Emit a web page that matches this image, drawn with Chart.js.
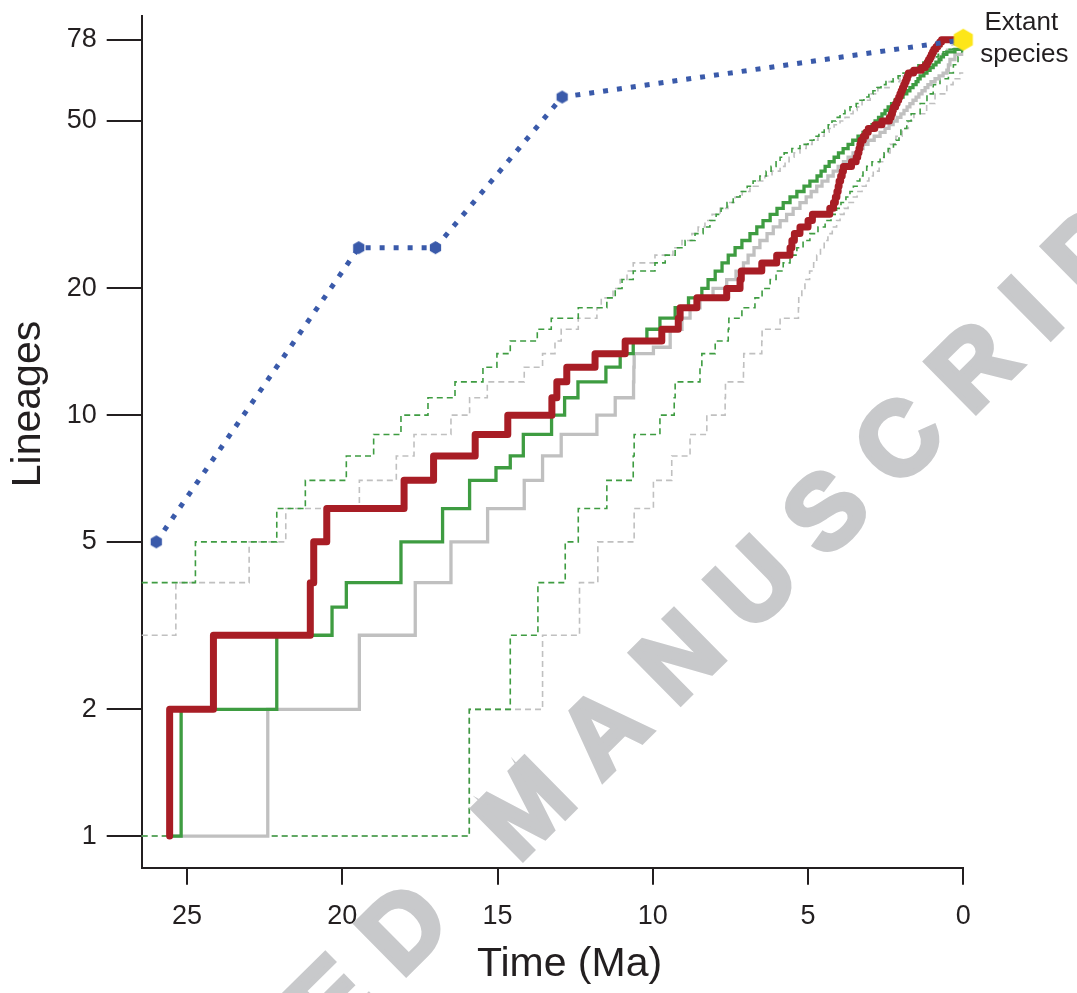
<!DOCTYPE html>
<html><head><meta charset="utf-8">
<script src="https://cdn.jsdelivr.net/npm/chart.js@4.4.1/dist/chart.umd.min.js"></script>
<style>html,body{margin:0;padding:0;background:#fff;}canvas{display:block;}</style>
</head><body>
<canvas id="c" width="1077" height="993"></canvas>
<script>
// ---- data (time in Ma, number of lineages) ----
const xTicks = [0, 5, 10, 15, 20, 25];
const yTicks = [1, 2, 5, 10, 20, 50, 78];

const redLTT = [[25.56,1],[25.56,2],[24.15,3],[21.03,4],[20.92,5],[20.50,6],[18.01,7],[17.06,8],[15.72,9],[14.67,10],[13.25,11],[13.09,12],[12.77,13],[11.86,14],[10.89,15],[9.71,16],[9.18,17],[9.12,18],[8.58,19],[7.62,20],[7.19,21],[7.15,22],[6.49,23],[6.01,24],[5.58,25],[5.52,26],[5.44,27],[5.26,28],[5.00,29],[4.86,30],[4.30,31],[4.18,32],[4.12,33],[4.07,34],[4.03,35],[4.00,36],[3.95,37],[3.90,38],[3.86,39],[3.60,40],[3.45,41],[3.40,42],[3.36,43],[3.33,44],[3.30,45],[3.22,46],[3.14,47],[3.06,48],[2.85,49],[2.62,50],[2.38,51],[2.32,52],[2.28,53],[2.25,54],[2.18,55],[2.13,56],[2.08,57],[2.04,58],[2.00,59],[1.96,60],[1.92,61],[1.88,62],[1.84,63],[1.80,64],[1.77,65],[1.60,66],[1.35,67],[1.22,68],[1.16,69],[1.12,70],[1.07,71],[1.03,72],[0.99,73],[0.95,74],[0.88,75],[0.82,76],[0.76,77],[0.70,78],[0,78]];

const greenMedian = [[25.56,1],[25.19,2],[22.11,3],[20.33,3.5],[19.87,4],[18.11,5],[16.77,6],[15.90,7],[15.05,7.5],[14.59,8],[14.17,9],[13.26,10],[12.84,11],[12.41,12],[11.51,13],[11.05,14],[10.63,15],[10.19,16],[9.77,17],[9.28,18],[8.85,19],[8.42,20],[8.22,21],[7.99,22],[7.77,23],[7.57,24],[7.35,25],[7.13,26],[6.87,27],[6.65,28],[6.45,29],[6.22,30],[6.00,31],[5.80,32],[5.58,33],[5.36,34],[5.13,35],[4.94,36],[4.71,37],[4.58,38],[4.45,39],[4.32,40],[4.16,41],[4.02,42],[3.87,43],[3.71,44],[3.56,45],[3.39,46],[3.23,47],[3.07,48],[2.94,49],[2.84,50],[2.73,51],[2.62,52],[2.52,53],[2.42,54],[2.31,55],[2.20,56],[2.07,57],[1.94,58],[1.82,59],[1.72,60],[1.62,61],[1.52,62],[1.46,63],[1.39,64],[1.27,65],[1.17,66],[1.07,67],[0.97,68],[0.88,69],[0.78,70],[0.72,71],[0.64,72],[0.53,73],[0.27,74],[0.05,76],[0,76]];

const greyMedian = [[25.56,1],[22.40,2],[19.45,3],[17.65,4],[16.50,5],[15.32,6],[14.14,7],[13.55,8],[12.95,9],[11.80,10],[11.21,11],[10.62,12],[10.61,13],[10.60,14],[9.98,14.5],[9.44,16],[9.06,17],[8.80,18],[8.48,19],[8.06,20],[7.62,21],[7.32,22],[7.08,23],[6.93,24],[6.74,25],[6.55,26],[6.32,27],[6.12,28],[5.90,29],[5.69,30],[5.48,31],[5.26,32],[5.06,33],[4.90,34],[4.72,35],[4.55,36],[4.36,37],[4.19,38],[4.03,39],[3.86,40],[3.71,41],[3.55,42],[3.39,43],[3.23,44],[3.07,45],[2.87,46],[2.68,47],[2.52,48],[2.39,49],[2.26,50],[2.13,51],[2.01,52],[1.91,53],[1.81,54],[1.72,55],[1.62,56],[1.52,57],[1.43,58],[1.33,59],[1.23,60],[1.14,61],[1.04,62],[0.91,63],[0.78,64],[0.65,65],[0.53,66],[0.48,68],[0.43,70],[0.27,72],[0,72]];

const greenUpper = [[26.46,4],[24.73,5],[22.11,6],[21.19,7],[19.87,8],[18.99,9],[18.11,10],[17.24,11],[16.37,12],[15.47,13],[15.02,14],[14.59,15],[13.72,16],[13.27,17],[12.40,18],[11.48,19],[11.21,20],[10.99,21],[10.63,22],[9.93,23],[9.60,24],[9.28,25],[8.96,26],[8.64,27],[8.38,28],[8.16,29],[7.96,30],[7.80,31],[7.61,32],[7.41,33],[7.19,34],[6.96,35],[6.77,36],[6.55,37],[6.35,38],[6.19,39],[6.03,40],[5.90,41],[5.77,42],[5.52,43],[5.26,44],[5.00,45],[4.81,46],[4.65,47],[4.48,48],[4.35,49],[4.23,50],[4.10,51],[3.97,52],[3.81,53],[3.65,54],[3.45,55],[3.33,56],[3.20,57],[3.04,58],[2.91,59],[2.78,60],[2.65,61],[2.49,62],[2.26,63],[2.10,64],[1.94,65],[1.78,66],[1.62,67],[1.46,68],[1.30,69],[1.14,70],[0.98,71],[0.81,72],[0.65,73],[0.49,74],[0.33,76],[0.17,78],[0,78]];

const greenLower = [[26.46,1],[15.91,2],[14.59,3],[13.70,4],[12.82,5],[12.40,6],[11.48,7],[10.63,8],[10.60,9],[9.77,10],[9.31,11],[9.28,12],[8.48,13],[8.42,14],[7.99,15],[7.57,16],[7.55,17],[7.13,18],[6.71,19],[6.48,20],[6.22,21],[6.03,22],[5.80,23],[5.58,24],[5.36,25],[5.16,26],[4.94,27],[4.68,28],[4.45,29],[4.26,30],[4.08,31],[3.94,32],[3.78,33],[3.65,34],[3.54,35],[3.42,36],[3.33,37],[3.23,38],[3.11,39],[2.94,40],[2.68,41],[2.55,42],[2.42,43],[2.25,44],[2.17,45],[2.07,46],[2.01,48],[1.82,50],[1.68,52],[1.39,55],[1.17,58],[0.97,61],[0.75,63],[0.48,65],[0.32,68],[0.17,71],[0.05,73],[0,73]];

const greyUpper = [[26.46,3],[25.36,4],[23.00,5],[21.82,6],[19.45,7],[18.26,8],[17.69,9],[16.50,10],[15.90,11],[15.33,12],[14.14,13],[13.55,14],[13.15,15],[12.95,16],[12.40,17],[11.80,18],[11.66,19],[11.28,20],[11.05,21],[10.83,22],[10.63,23],[9.93,24],[9.35,25],[9.06,26],[8.74,27],[8.54,28],[8.32,29],[8.09,30],[7.83,31],[7.58,32],[7.35,33],[7.12,34],[6.87,35],[6.61,36],[6.39,37],[6.16,38],[5.90,39],[5.74,40],[5.61,41],[5.45,42],[5.26,43],[5.06,44],[4.87,45],[4.68,46],[4.48,47],[4.32,48],[4.16,49],[3.97,50],[3.81,51],[3.68,52],[3.55,53],[3.42,54],[3.26,56],[3.00,58],[2.75,60],[2.39,62],[2.04,64],[1.72,66],[1.39,68],[1.14,70],[0.91,72],[0.59,74],[0.36,76],[0.17,78],[0,78]];

const greyLower = [[26.46,1],[15.91,2],[13.55,3],[12.36,4],[11.77,5],[10.60,6],[9.98,7],[9.39,8],[8.80,9],[8.26,10],[7.67,11],[7.66,12],[7.08,13],[7.07,14],[6.49,15],[6.48,16],[5.90,17],[5.31,18],[5.30,19],[5.20,20],[5.10,21],[4.95,22],[4.82,23],[4.72,24],[4.60,25],[4.48,26],[4.36,27],[4.22,28],[4.08,29],[3.97,30],[3.84,31],[3.71,32],[3.54,33],[3.42,34],[3.26,35],[3.13,36],[3.04,37],[2.90,38],[2.71,40],[2.55,42],[2.36,44],[2.17,46],[1.97,48],[1.77,50],[1.59,52],[1.18,55],[0.91,58],[0.53,61],[0.33,63],[0.11,65],[0,65]];

const fossilTimes = [25.99, 19.47, 17.00, 12.92, 0];
const fossilCounts = [5, 25, 25, 57, 78];

const extantTime = [0];
const extantCount = [78];

// ---- styling ----
const FONT = "'Liberation Sans', Arial, Helvetica, sans-serif";
const INK = '#231f20';
const RED = '#a81d25';
const GREEN = '#3e9c41';
const GREY = '#c0c0c0';
const BLUE = '#3a5aaa';
const YELLOW = '#fde619';

function hexCanvas(r, fill) {
  const s = Math.ceil(2 * r + 2);
  const c = document.createElement('canvas');
  c.width = s; c.height = s;
  const g = c.getContext('2d');
  g.fillStyle = fill;
  g.beginPath();
  for (let k = 0; k < 6; k++) {
    const a = Math.PI / 2 + k * Math.PI / 3;
    const px = s / 2 + r * Math.cos(a), py = s / 2 + r * Math.sin(a);
    if (k) g.lineTo(px, py); else g.moveTo(px, py);
  }
  g.closePath(); g.fill();
  return c;
}

const pts = arr => arr.map(([t, n]) => ({ x: t, y: n }));
function stepDs(arr, color, width, dash, cap) {
  return {
    data: pts(arr), borderColor: color, borderWidth: width, borderDash: dash || [],
    stepped: 'before', pointRadius: 0, fill: false, clip: false,
    borderCapStyle: cap || 'butt', borderJoinStyle: cap === 'round' ? 'round' : 'miter'
  };
}

const datasets = [
  { data: extantTime.map((t, i) => ({ x: t, y: extantCount[i] })), showLine: false,
    pointStyle: hexCanvas(11, YELLOW), pointRadius: 11, clip: false },
  { data: fossilTimes.map((t, i) => ({ x: t, y: fossilCounts[i] })), borderColor: BLUE,
    borderWidth: 5, borderDash: [5, 9], borderCapStyle: 'butt', fill: false,
    pointStyle: hexCanvas(6.5, BLUE), pointRadius: 6, clip: false, tension: 0 },
  stepDs(redLTT, RED, 7, null, 'round'),
  stepDs(greenMedian, GREEN, 3.3),
  stepDs(greyMedian, GREY, 3.3),
  stepDs(greenUpper, GREEN, 1.6, [6, 4]),
  stepDs(greenLower, GREEN, 1.6, [6, 4]),
  stepDs(greyUpper, GREY, 1.6, [6, 4]),
  stepDs(greyLower, GREY, 1.6, [6, 4])
];

const textPlugin = {
  id: 'texts',
  afterDraw(chart) {
    const ctx = chart.ctx;
    const xs = chart.scales.x, ys = chart.scales.y;
    ctx.save();
    ctx.fillStyle = INK;
    ctx.textAlign = 'center';
    ctx.textBaseline = 'middle';
    ctx.font = `41px ${FONT}`;
    ctx.fillText('Time (Ma)', 569.5, 965);
    ctx.save();
    ctx.translate(29, 404);
    ctx.rotate(-Math.PI / 2);
    ctx.fillText('Lineages', 0, 0);
    ctx.restore();
    // label next to the extant-species marker
    const ex = xs.getPixelForValue(extantTime[0]);
    const ey = ys.getPixelForValue(extantCount[0]);
    ctx.font = `26px ${FONT}`;
    ctx.fillText('Extant', ex + 58, ey - 17);
    ctx.fillText('species', ex + 61, ey + 15);
    ctx.restore();

    // watermark
    ctx.save();
    const F = 104, T = 30;
    ctx.font = `bold ${F}px ${FONT}`;
    ctx.fillStyle = '#c8c9cb';
    ctx.strokeStyle = '#c8c9cb';
    ctx.lineWidth = 5;
    ctx.lineJoin = 'miter';
    const text = 'ACCEPTED MANUSCRIPT';
    const ang = Math.atan2(-72, 73);
    const widths = [...text].map(ch => ctx.measureText(ch).width);
    const lefts = []; let p = 0;
    widths.forEach((w, i) => { lefts.push(p); p += w + T; });
    const anchorIdx = 13;
    const anchorC = lefts[anchorIdx] + widths[anchorIdx] / 2;
    ctx.translate(824, 510);
    ctx.rotate(ang);
    ctx.textAlign = 'left';
    ctx.textBaseline = 'alphabetic';
    [...text].forEach((ch, i) => {
      ctx.fillText(ch, lefts[i] - anchorC, 0.358 * F);
      ctx.strokeText(ch, lefts[i] - anchorC, 0.358 * F);
    });
    ctx.restore();
  }
};

new Chart(document.getElementById('c'), {
  type: 'line',
  data: { datasets },
  options: {
    responsive: false, animation: false, devicePixelRatio: 1,
    layout: { padding: { left: 0, top: 16, right: 113.7, bottom: 0 } },
    plugins: { legend: { display: false }, tooltip: { enabled: false } },
    scales: {
      x: {
        type: 'linear', reverse: true, min: 0, max: 26.46, position: 'bottom',
        afterBuildTicks: s => { s.ticks = xTicks.map(v => ({ value: v })); },
        afterFit: s => { s.height = 125.3; s.paddingLeft = 0; s.paddingRight = 0; },
        grid: { drawOnChartArea: false, drawTicks: true, tickLength: 17, color: INK, lineWidth: 2 },
        border: { display: true, color: INK, width: 2 },
        ticks: { color: INK, font: { family: FONT, size: 27 }, padding: 16, maxRotation: 0, autoSkip: false, callback: v => String(v) }
      },
      y: {
        type: 'logarithmic', min: 0.841, max: 88.8, position: 'left',
        afterBuildTicks: s => { s.ticks = yTicks.map(v => ({ value: v })); },
        afterFit: s => { s.width = 141.7; s.paddingTop = 0; s.paddingBottom = 0; },
        grid: { drawOnChartArea: false, drawTicks: true, tickLength: 35, color: INK, lineWidth: 2 },
        border: { display: true, color: INK, width: 2 },
        ticks: { color: INK, font: { family: FONT, size: 27 }, padding: 10, autoSkip: false, callback: v => String(v) }
      }
    }
  },
  plugins: [textPlugin]
});
</script>
</body></html>
